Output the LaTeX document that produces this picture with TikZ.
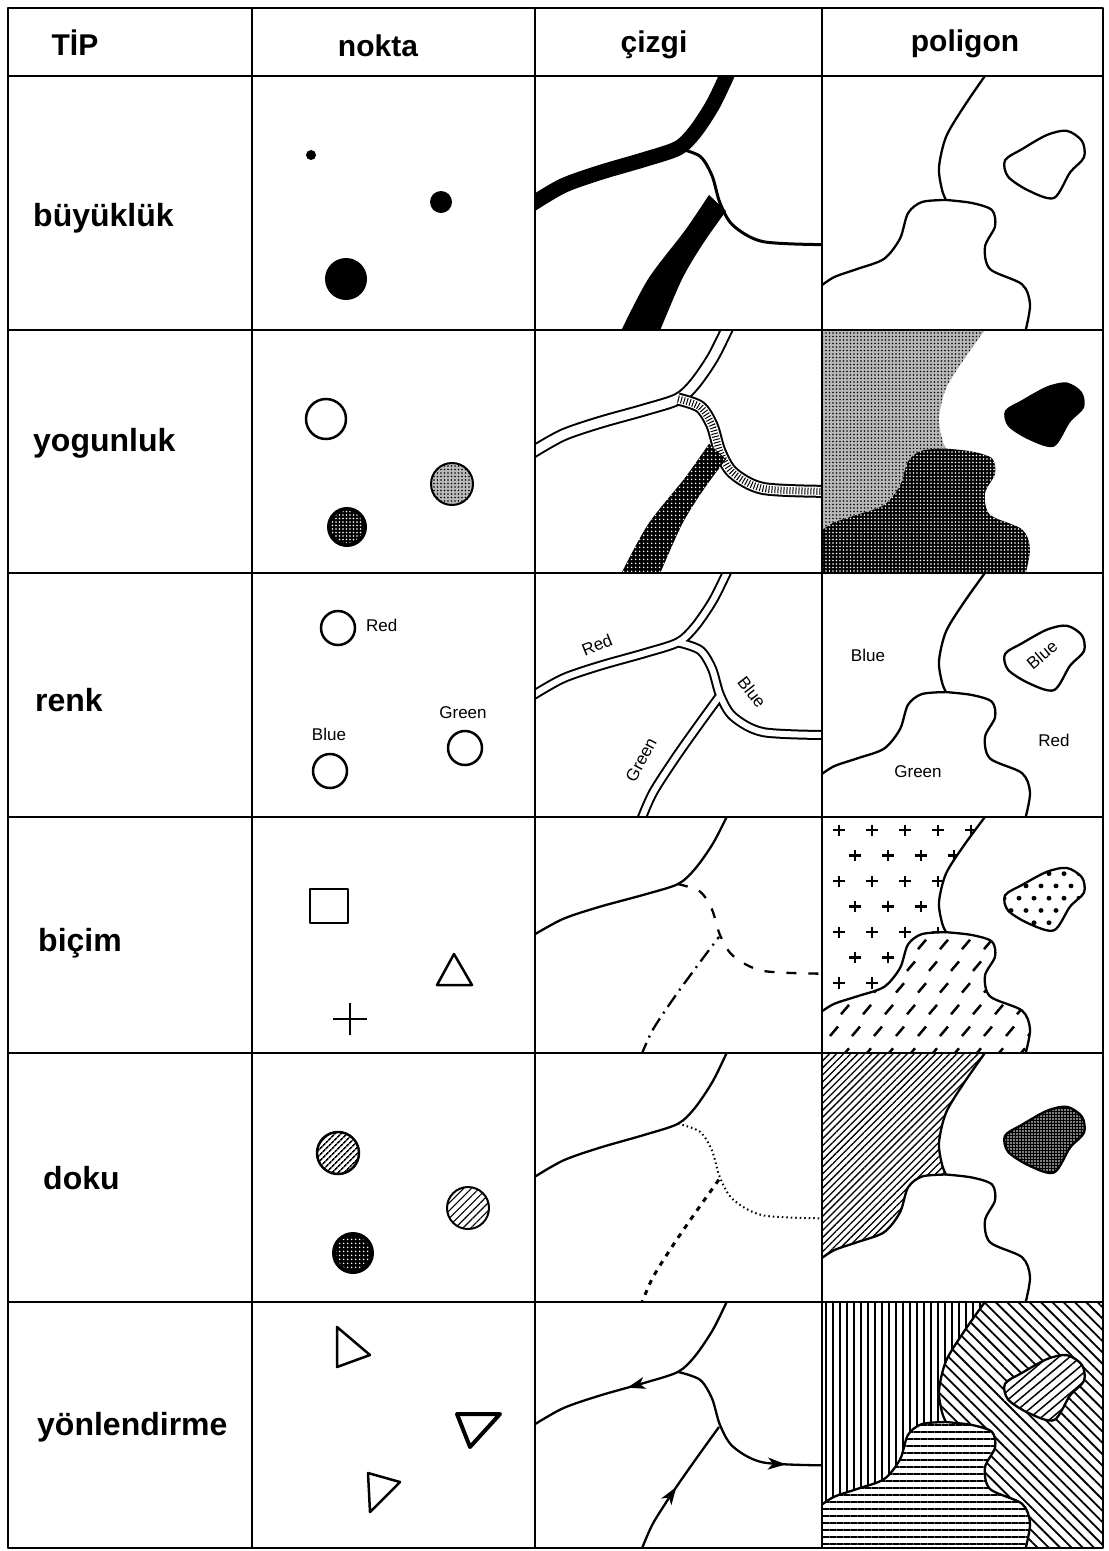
\documentclass[tikz,border=0pt]{standalone}
\usepackage{fontspec}
\setmainfont{Liberation Sans}
\usetikzlibrary{patterns.meta,decorations.markings,arrows.meta}

% polygon geometry (local cell coordinates, 250 high)
\newcommand\polyM{-- plot[smooth] coordinates {(165,-3) (142,30) (124,60) (117,90) (120,112) (124,122)}}
\newcommand\polyL{-- plot[smooth] coordinates {(124,122) (100,124) (86,135) (78,160) (62,180) (35,190) (12,198) (-3,208)}}
\newcommand\polyLr{-- plot[smooth] coordinates {(-3,208) (12,198) (35,190) (62,180) (78,160) (86,135) (100,124) (124,122)}}
\newcommand\polyR{-- plot[smooth] coordinates {(124,122) (150,125) (170,132) (173,148) (163,168) (168,190) (200,205) (208,225) (203,253)}}
\newcommand\regLeft{(-3,-3) -- (165,-3) \polyM \polyL -- cycle}
\newcommand\regBot{(-3,253) -- (-3,208) \polyLr \polyR -- cycle}
\newcommand\regRight{(165,-3) \polyM \polyR -- (290,253) -- (290,-3) -- cycle}
\newcommand\polyIsl{plot[smooth cycle] coordinates {(183,83) (200,72) (225,58) (245,54) (260,64) (262,80) (248,95) (232,120) (207,113) (186,99)}}
\newcommand\polyBounds{\draw[bnd] (165,-3) \polyM \polyR; \draw[bnd] (124,122) \polyL;}

% line network geometry
\newcommand\cizA{plot[smooth] coordinates {(193,-3) (178,28) (160,55) (143,71) (110,82) (65,95) (28,108) (-3,126)}}
\newcommand\cizB{plot[smooth] coordinates {(143,71) (165,79) (177,98) (185,125) (198,147) (228,163) (290,166)}}
\newcommand\cizC{plot[smooth] coordinates {(106,253) (118,225) (140,190) (162,158) (184,127)}}
\newcommand\cizCthick{plot[smooth] coordinates {(174,117) (150,152) (113,200) (85,253)} -- plot[smooth] coordinates {(124,253) (147,200) (168,165) (191,133)} -- cycle}

\begin{document}
\begin{tikzpicture}[x=1pt,y=-1pt,line join=round]
\tikzset{
  gridline/.style={line width=2.2pt},
  bnd/.style={line width=2.3pt},
  hdr/.style={font=\fontsize{30}{36}\selectfont\bfseries,anchor=base,inner sep=0pt},
  rowlab/.style={font=\fontsize{32}{38}\selectfont\bfseries,anchor=base west,inner sep=0pt},
  small/.style={font=\fontsize{17}{20}\selectfont,inner sep=0pt},
  sym/.style={line width=2.5pt},
  arr/.style={decoration={markings,mark=at position #1 with {\arrow{Stealth[length=18pt,width=12pt,inset=5pt]}}},postaction=decorate},
}
\useasboundingbox (0,0) rectangle (1109,1551);
\fill[white] (0,0) rectangle (1109,1551);

% ---------- headers ----------
\node[hdr] (hTip) at (75,55) {TİP};
\node[hdr] (hNokta) at (378,56) {nokta};
\node[hdr] (hCizgi) at (654,52) {çizgi};
\node[hdr] (hPoligon) at (965,51) {poligon};

% ---------- row labels ----------
\node[rowlab] (lBuy) at (33,226) {büyüklük};
\node[rowlab] (lYog) at (33,451) {yogunluk};
\node[rowlab] (lRenk) at (35,711) {renk};
\node[rowlab] (lBic) at (38,951) {biçim};
\node[rowlab] (lDoku) at (43,1189) {doku};
\node[rowlab] (lYon) at (37,1435) {yönlendirme};

% ---------- nokta column ----------
% row 1
\fill (311,155) circle (5);
\fill (441,202) circle (11);
\fill (346,279) circle (21);
% row 2
\draw[sym] (326,419) circle (20);
\fill[gray!55] (452,484) circle (21);
\fill[pattern={Dots[distance=3.5pt,radius=0.9pt]}] (452,484) circle (21);
\draw[line width=2pt] (452,484) circle (21);
\fill (347,527) circle (20);
\fill[pattern={Dots[distance=3.5pt,radius=0.8pt]},pattern color=white] (347,527) circle (16);
% row 3
\draw[sym] (338,628) circle (17);
\draw[sym] (330,771) circle (17);
\draw[sym] (465,748) circle (17);
\node[small,anchor=west] (nRed) at (366,625) {Red};
\node[small] (nGreen) at (463,713) {Green};
\node[small] (nBlue) at (329,734) {Blue};
% row 4
\draw[sym] (310,889) rectangle (348,923);
\draw[sym] (454,954) -- (472,985) -- (437,985) -- cycle;
\draw[line width=2pt] (333,1019) -- (367,1019) (350,1003) -- (350,1035);
% row 5
\fill[pattern={Lines[angle=45,distance=4pt,line width=1.6pt]}] (338,1153) circle (21);
\draw[sym] (338,1153) circle (21);
\fill[pattern={Lines[angle=45,distance=5.5pt,line width=1.1pt]}] (468,1208) circle (21);
\draw[line width=2pt] (468,1208) circle (21);
\fill (353,1253) circle (21);
\fill[pattern={Dots[distance=4pt,radius=1pt]},pattern color=white] (353,1253) circle (17);
% row 6
\draw[sym] (337,1327) -- (337,1367) -- (370,1355) -- cycle;
\draw[line width=4pt] (457,1414) -- (500,1414) -- (470,1447) -- cycle;
\draw[sym] (368,1473) -- (400,1482) -- (370,1512) -- cycle;

% ---------- cizgi column ----------
% row 1
\begin{scope}[shift={(535,76)},yscale=1.016]
\clip (0,0) rectangle (287,250);
\draw[line width=15pt] \cizA;
\draw[line width=3pt] \cizB;
\fill \cizCthick;
\end{scope}
% row 2
\begin{scope}[shift={(535,330)},yscale=0.972]
\clip (0,0) rectangle (287,250);
\draw[line width=13pt] \cizA;
\draw[white,line width=9pt] \cizA;
\draw[line width=13pt] \cizB;
\draw[white,line width=9pt] \cizB;
\draw[line width=7pt,dash pattern=on 1pt off 2pt] \cizB;
\fill \cizCthick;
\fill[pattern={Dots[distance=4pt,radius=1pt]},pattern color=white] \cizCthick;
\end{scope}
% row 3
\begin{scope}[shift={(535,573)},yscale=0.976]
\clip (0,0) rectangle (287,250);
\draw[line width=10pt] \cizA;
\draw[line width=10pt] \cizB;
\draw[line width=10pt] \cizC;
\draw[white,line width=6pt] \cizA;
\draw[white,line width=6pt] \cizB;
\draw[white,line width=6pt] \cizC;
\end{scope}
\node[small,rotate=22] (cRed) at (597,645) {Red};
\node[small,rotate=-52] (cBlue) at (752,692) {Blue};
\node[small,rotate=62] (cGreen) at (641,760) {Green};
% row 4
\begin{scope}[shift={(535,817)},yscale=0.944]
\clip (0,0) rectangle (287,250);
\draw[bnd] \cizA;
\draw[bnd,dash pattern=on 10pt off 12pt] \cizB;
\draw[bnd,dash pattern=on 14pt off 6pt on 2pt off 6pt] \cizC;
\end{scope}
% row 5
\begin{scope}[shift={(535,1053)},yscale=0.996]
\clip (0,0) rectangle (287,250);
\draw[bnd] \cizA;
\draw[line width=2pt,dash pattern=on 1.5pt off 3pt] \cizB;
\draw[line width=3pt,dash pattern=on 5pt off 6pt] \cizC;
\end{scope}
% row 6
\begin{scope}[shift={(535,1302)},yscale=0.984]
\clip (0,0) rectangle (287,250);
\draw[bnd,arr=0.58] \cizA;
\draw[bnd,arr=0.8] \cizB;
\draw[bnd,arr=0.5] \cizC;
\end{scope}

% ---------- poligon column ----------
% row 1
\begin{scope}[shift={(822,76)},yscale=1.016]
\clip (0,0) rectangle (281,250);
\polyBounds
\draw[bnd] \polyIsl;
\end{scope}
% row 2
\begin{scope}[shift={(822,330)},yscale=0.972]
\clip (0,0) rectangle (281,250);
\fill[gray!55] \regLeft;
\fill[pattern={Dots[distance=3.5pt,radius=0.9pt]}] \regLeft;
\fill \regBot;
\fill[pattern={Dots[distance=3.5pt,radius=0.8pt]},pattern color=white] \regBot;
\fill \polyIsl;
\end{scope}
% row 3
\begin{scope}[shift={(822,573)},yscale=0.976]
\clip (0,0) rectangle (281,250);
\polyBounds
\draw[bnd] \polyIsl;
\end{scope}
\node[small] (pBlue) at (868,655) {Blue};
\node[small,rotate=40] (pBlueI) at (1042,655) {Blue};
\node[small] (pRed) at (1054,740) {Red};
\node[small] (pGreen) at (918,772) {Green};
% row 4
\begin{scope}[shift={(822,817)},yscale=0.944]
\clip (0,0) rectangle (281,250);
\begin{scope}
\clip \regLeft;
\foreach \j in {0,...,9}{\foreach \i in {0,...,5}{
  \pgfmathsetmacro\xx{17+33*\i+16*mod(\j,2)}
  \pgfmathsetmacro\yy{14+27*\j}
  \draw[line width=2.5pt] (\xx-6,\yy) -- (\xx+6,\yy) (\xx,\yy-6) -- (\xx,\yy+6);
}}
\end{scope}
\begin{scope}
\clip \regBot;
\foreach \j in {0,...,5}{\foreach \i in {0,...,9}{
  \pgfmathsetmacro\xx{12+22*\i+11*mod(\j,2)}
  \pgfmathsetmacro\yy{135+23*\j}
  \draw[line width=2.5pt] (\xx-4,\yy+5) -- (\xx+4,\yy-5);
}}
\end{scope}
\begin{scope}
\clip \polyIsl;
\foreach \j in {0,...,5}{\foreach \i in {0,...,6}{
  \pgfmathsetmacro\xx{182+15*\i+7*mod(\j,2)}
  \pgfmathsetmacro\yy{60+13*\j}
  \fill (\xx,\yy) circle (2.5);
}}
\end{scope}
\polyBounds
\draw[bnd] \polyIsl;
\end{scope}
% row 5
\begin{scope}[shift={(822,1053)},yscale=0.996]
\clip (0,0) rectangle (281,250);
\fill[pattern={Lines[angle=45,distance=5pt,line width=1.3pt]}] \regLeft;
\fill \polyIsl;
\fill[pattern={Dots[distance=3pt,radius=0.8pt]},pattern color=white] \polyIsl;
\polyBounds
\draw[bnd] \polyIsl;
\end{scope}
% row 6
\begin{scope}[shift={(822,1302)},yscale=0.984]
\clip (0,0) rectangle (281,250);
\fill[pattern={Lines[angle=90,distance=7pt,line width=1.5pt]}] \regLeft;
\fill[pattern={Lines[angle=0,distance=7pt,line width=1.5pt]}] \regBot;
\fill[pattern={Lines[angle=-45,distance=8pt,line width=1.8pt]}] \regRight;
\fill[white] \polyIsl;
\fill[pattern={Lines[angle=40,distance=7pt,line width=1.5pt]}] \polyIsl;
\polyBounds
\draw[bnd] \polyIsl;
\end{scope}

% ---------- table grid ----------
\draw[gridline] (8,8) rectangle (1103,1548);
\foreach \gx in {252,535,822}{\draw[gridline] (\gx,8) -- (\gx,1548);}
\foreach \gy in {76,330,573,817,1053,1302}{\draw[gridline] (8,\gy) -- (1103,\gy);}
\end{tikzpicture}
\end{document}
